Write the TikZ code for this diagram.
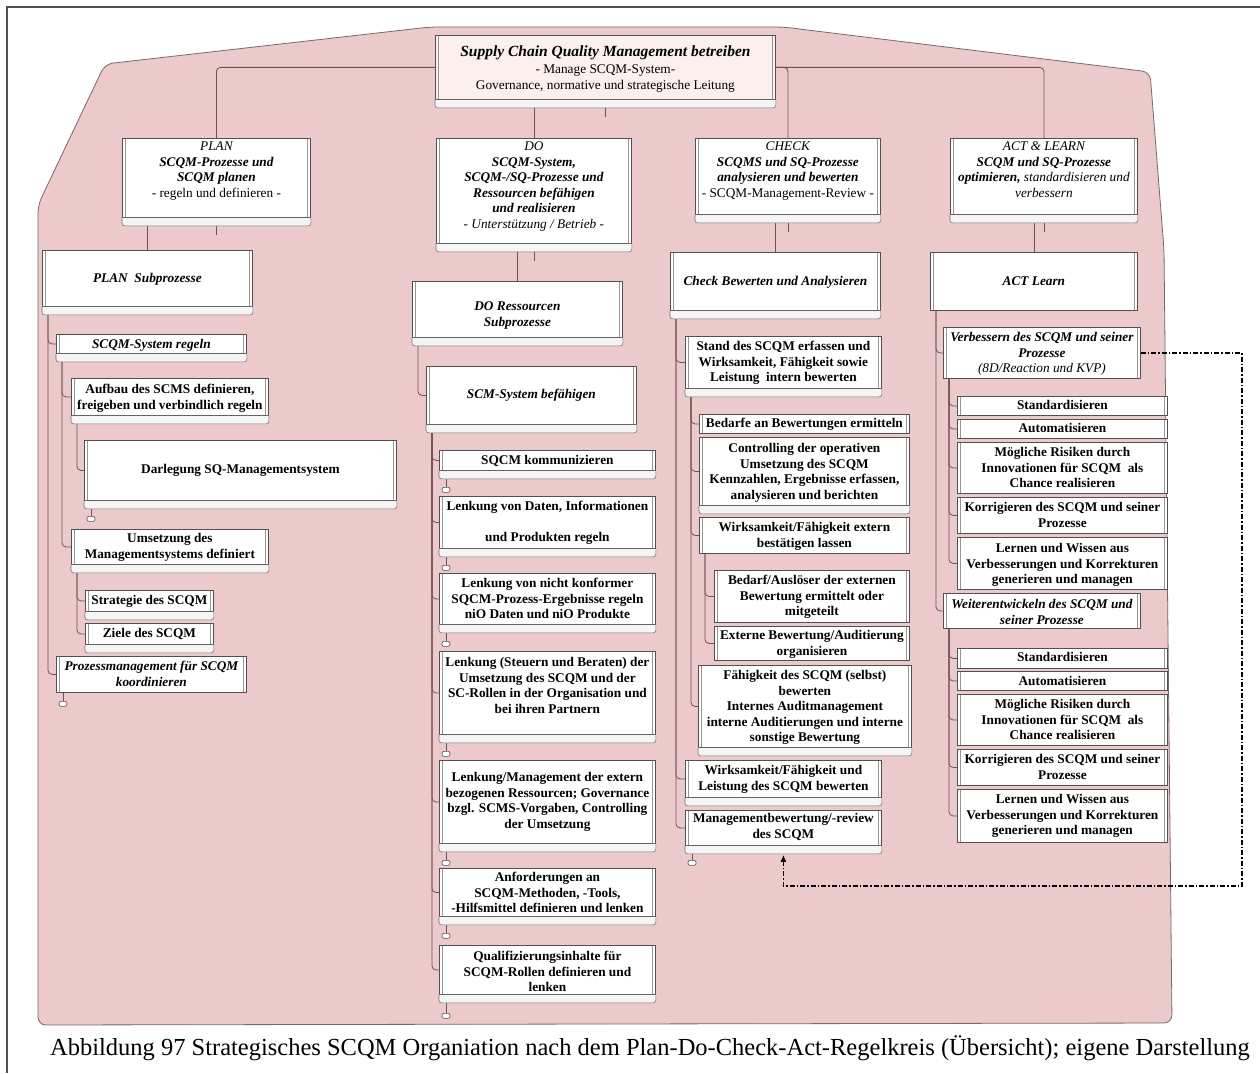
\documentclass[tikz,border=0pt]{standalone}
\usepackage{fontspec}
\setmainfont{Liberation Serif}
\usetikzlibrary{arrows.meta,backgrounds}

\definecolor{rose}{RGB}{236,201,203}
\definecolor{roseline}{RGB}{120,104,104}
\definecolor{linkcol}{RGB}{112,82,82}
\definecolor{boxline}{RGB}{80,80,80}
\definecolor{toppink}{RGB}{252,240,239}

\begin{document}
\begin{tikzpicture}
  [x=1pt,y=-1pt,
   every node/.style={font=\fontsize{13.3}{15.5}\selectfont},
   twin/.style={path picture={
     \draw[boxline!60,line width=0.6pt]
       ([xshift=3pt]path picture bounding box.north west) -- ([xshift=3pt]path picture bounding box.south west)
       ([xshift=-3pt]path picture bounding box.north east) -- ([xshift=-3pt]path picture bounding box.south east);}},
   cardbox/.style n args={3}{draw=boxline,fill=white,line width=0.8pt,anchor=north west,
     align=center,inner xsep=3pt,inner ysep=0pt,
     minimum width=#1,text height=#2,text depth=#3,twin},
   strong/.style={font=\fontsize{13.3}{15.5}\selectfont\bfseries},
   heading/.style={font=\fontsize{13.3}{15.5}\selectfont\bfseries\itshape},
   stripe/.style={draw=boxline!80,fill=black!4,line width=0.6pt,rounded corners=2.5pt},
   link/.style={draw=linkcol,line width=0.8pt,rounded corners=4pt},
   endmark/.style={draw=boxline,fill=white,line width=0.6pt,rounded corners=2pt,
     minimum width=8pt,minimum height=5pt,inner sep=0pt},
   loopback/.style={draw=black,line width=1.3pt,dash pattern=on 5pt off 2pt on 1.5pt off 2pt,
     -{Latex[length=7pt,width=6pt]}},
   captiontext/.style={font=\fontsize{24.5}{27}\selectfont}]

  \useasboundingbox (0,0) rectangle (1260,1073);
  \draw[boxline,line width=1.2pt] (7,1073) -- (7,7) -- (1260,7);

  \begin{pgfonlayer}{background}
    \filldraw[fill=rose,draw=roseline,line width=0.8pt,rounded corners=8pt]
      (38,1025) -- (38,205) -- (105,64) -- (430,27) -- (783,27) -- (1150,72)
      -- (1164,250) -- (1172,1023) -- cycle;
  \end{pgfonlayer}

  % top level
  \node[cardbox={340}{54}{10},fill=toppink] (scqm) at (435,35)
    {{\fontsize{15.5}{17}\selectfont\bfseries\itshape Supply Chain Quality Management betreiben}\\[1.5pt]
     - Manage SCQM-System-\\ Governance, normative und strategische Leitung};
  \node[cardbox={188}{59}{20},heading] (plan) at (122,138)
    {{\mdseries PLAN}\\ SCQM-Prozesse und\\ SCQM planen\\ {\mdseries\upshape - regeln und definieren -}};
  \node[cardbox={195}{90}{15},heading] (dobox) at (436,138)
    {{\mdseries DO}\\ SCQM-System,\\ SCQM-/SQ-Prozesse und\\ Ressourcen befähigen\\ und realisieren\\
     {\mdseries - Unterstützung / Betrieb -}};
  \node[cardbox={185}{59}{17},heading] (check) at (695,138)
    {{\mdseries CHECK}\\ SCQMS und SQ-Prozesse\\ analysieren und bewerten\\
     {\mdseries\upshape - SCQM-Management-Review -}};
  \node[cardbox={187}{59}{17},heading] (act) at (950,138)
    {{\mdseries ACT \& LEARN}\\ SCQM und SQ-Prozesse\\ optimieren, {\mdseries standardisieren und}\\
     {\mdseries verbessern}};

  % PLAN
  \node[cardbox={210}{32.5}{23.5},heading] (plansub) at (42,250) {PLAN\ \ Subprozesse};
  \node[cardbox={190}{14.5}{4.5},heading] (sysreg) at (56,334) {SCQM-System regeln};
  \node[cardbox={197}{31}{6},strong] (aufbau) at (71,378)
    {Aufbau des SCMS definieren,\\ freigeben und verbindlich regeln};
  \node[cardbox={312}{33.5}{26.5},strong] (darleg) at (84,440) {Darlegung SQ-Managementsystem};
  \node[cardbox={197}{29}{6},strong] (umsetz) at (71,529)
    {Umsetzung des\\ Managementsystems definiert};
  \node[cardbox={128}{14.5}{6.5},strong] (strat) at (85,590) {Strategie des SCQM};
  \node[cardbox={128}{14.5}{6.5},strong] (ziele) at (85,623) {Ziele des SCQM};
  \node[cardbox={190}{30}{6},heading] (prozmgmt) at (56,656)
    {Prozessmanagement für SCQM\\ koordinieren};

  % DO
  \node[cardbox={210}{45}{11},heading] (dores) at (412,281) {DO Ressourcen\\ Subprozesse};
  \node[cardbox={210}{32.5}{25.5},heading] (scmsys) at (426,366) {SCM-System befähigen};
  \node[cardbox={216}{14.5}{5.5},strong] (komm) at (439,450) {SQCM kommunizieren};
  \node[cardbox={216}{45.5}{6.5},strong] (daten) at (439,496)
    {Lenkung von Daten, Informationen\\[15.5pt] und Produkten regeln};
  \node[cardbox={216}{45.5}{5.5},strong] (nio) at (439,573)
    {Lenkung von nicht konformer\\ SQCM-Prozess-Ergebnisse regeln\\ niO Daten und niO Produkte};
  \node[cardbox={216}{62}{21},strong] (steuern) at (439,651)
    {Lenkung (Steuern und Beraten) der\\ Umsetzung des SCQM und der\\
     SC-Rollen in der Organisation und\\ bei ihren Partnern};
  \node[cardbox={216}{68}{15},strong] (extres) at (439,760)
    {Lenkung/Management der extern\\ bezogenen Ressourcen; Governance\\
     bzgl. SCMS-Vorgaben, Controlling\\ der Umsetzung};
  \node[cardbox={216}{44.5}{3.5},strong] (anford) at (439,868)
    {Anforderungen an\\ SCQM-Methoden, -Tools,\\ -Hilfsmittel definieren und lenken};
  \node[cardbox={216}{46.5}{2.5},strong] (qualif) at (439,945)
    {Qualifizierungsinhalte für\\ SCQM-Rollen definieren und\\ lenken};

  % CHECK
  \node[cardbox={210}{33.5}{24.5},heading] (chkbew) at (670,252) {Check Bewerten und Analysieren};
  \node[cardbox={196}{45.5}{6.5},strong] (stand) at (685,336)
    {Stand des SCQM erfassen und\\ Wirksamkeit, Fähigkeit sowie\\ Leistung\ \ intern bewerten};
  \node[cardbox={210}{13.5}{5.5},strong] (bedarfe) at (699,414) {Bedarfe an Bewertungen ermitteln};
  \node[cardbox={210}{62}{6},strong] (controll) at (699,437)
    {Controlling der operativen\\ Umsetzung des SCQM\\ Kennzahlen, Ergebnisse erfassen,\\
     analysieren und berichten};
  \node[cardbox={210}{30}{6},strong] (extbest) at (699,517)
    {Wirksamkeit/Fähigkeit extern\\ bestätigen lassen};
  \node[cardbox={195}{45.5}{6.5},strong] (ausloes) at (714,570)
    {Bedarf/Auslöser der externen\\ Bewertung ermittelt oder\\ mitgeteilt};
  \node[cardbox={195}{29}{5},strong] (extaudit) at (714,626)
    {Externe Bewertung/Auditierung\\ organisieren};
  \node[cardbox={213}{76.5}{5.5},strong] (selbst) at (698,665)
    {Fähigkeit des SCQM (selbst)\\ bewerten\\ Internes Auditmanagement\\
     interne Auditierungen und interne\\ sonstige Bewertung};
  \node[cardbox={196}{30}{7},strong] (leistung) at (685,760)
    {Wirksamkeit/Fähigkeit und\\ Leistung des SCQM bewerten};
  \node[cardbox={196}{28}{7},strong] (review) at (685,810)
    {Managementbewertung/-review\\ des SCQM};

  % ACT
  \node[cardbox={207}{33.5}{24.5},heading] (actlearn) at (930,252) {ACT Learn};
  \node[cardbox={197}{45.5}{5.5},heading] (verbess) at (943,327)
    {Verbessern des SCQM und seiner\\ Prozesse\\ {\mdseries (8D/Reaction und KVP)}};
  \node[cardbox={210}{13.5}{5.5},strong] (std1) at (957,396) {Standardisieren};
  \node[cardbox={210}{13.5}{5.5},strong] (auto1) at (957,419) {Automatisieren};
  \node[cardbox={210}{45.5}{5.5},strong] (risk1) at (957,442)
    {Mögliche Risiken durch\\ Innovationen für SCQM\ \ als\\ Chance realisieren};
  \node[cardbox={210}{30}{6},strong] (korr1) at (957,497)
    {Korrigieren des SCQM und seiner\\ Prozesse};
  \node[cardbox={210}{46.5}{5.5},strong] (lern1) at (957,537)
    {Lernen und Wissen aus\\ Verbesserungen und Korrekturen\\ generieren und managen};
  \node[cardbox={197}{31}{4},heading] (weiter) at (943,593)
    {Weiterentwickeln des SCQM und\\ seiner Prozesse};
  \node[cardbox={210}{13.5}{6.5},strong] (std2) at (957,648) {Standardisieren};
  \node[cardbox={210}{14.5}{4.5},strong] (auto2) at (957,671) {Automatisieren};
  \node[cardbox={210}{45.5}{5.5},strong] (risk2) at (957,694)
    {Mögliche Risiken durch\\ Innovationen für SCQM\ \ als\\ Chance realisieren};
  \node[cardbox={210}{30}{6},strong] (korr2) at (957,749)
    {Korrigieren des SCQM und seiner\\ Prozesse};
  \node[cardbox={210}{45.5}{7.5},strong] (lern2) at (957,789)
    {Lernen und Wissen aus\\ Verbesserungen und Korrekturen\\ generieren und managen};

  % strips under the boxes
  \foreach \n in {scqm, plan, dobox, check, act, plansub, sysreg, aufbau, darleg, umsetz, strat, ziele,
      dores, scmsys, komm, daten, nio, steuern, extres, anford, qualif,
      chkbew, stand, controll, selbst, leistung, review}
    \draw[stripe] (\n.south west) -- ([yshift=-8pt]\n.south west)
      -- ([yshift=-8pt]\n.south east) -- (\n.south east);

  % end markers
  \foreach \n/\d in {darleg/18, prozmgmt/11, komm/19, daten/19, nio/19, steuern/19,
      extres/19, anford/19, qualif/21, review/17}
  {
    \node[endmark] (\n-e) at ([xshift=7pt,yshift=-\d]\n.south west) {};
    \begin{pgfonlayer}{background}
      \draw[link] (\n-e.north) -- (\n-e.north |- \n.south);
    \end{pgfonlayer}
  }

  \begin{pgfonlayer}{background}
    \draw[link] (scqm.west) -| (plan.north);
    \draw[link] (scqm.east) -| (act.north);
    \draw[link] (scqm.east) -| (check.north);
    \draw[link] (scqm.south -| dobox.north) -- (dobox.north);
    \foreach \n in {scqm, plan, dobox, check, act}
      \draw[link] (\n.south) -- ++(0,17);
    \foreach \from/\to in {plan/plansub, dobox/dores, check/chkbew, act/actlearn}
      \draw[link] (\from.south -| \to.north) -- (\to.north);
    \foreach \from/\to in {plansub/sysreg, plansub/prozmgmt, sysreg/aufbau, sysreg/umsetz,
        aufbau/darleg, umsetz/strat, umsetz/ziele,
        dores/scmsys, scmsys/komm, scmsys/daten, scmsys/nio, scmsys/steuern,
        scmsys/extres, scmsys/anford, scmsys/qualif,
        chkbew/stand, chkbew/leistung, chkbew/review, stand/bedarfe, stand/controll,
        stand/extbest, stand/selbst, extbest/ausloes, extbest/extaudit,
        actlearn/verbess, actlearn/weiter, verbess/std1, verbess/auto1, verbess/risk1,
        verbess/korr1, verbess/lern1, weiter/std2, weiter/auto2, weiter/risk2,
        weiter/korr2, weiter/lern2}
      \draw[link] ([xshift=6pt]\from.south west) |- (\to.west);
  \end{pgfonlayer}

  % feedback loop
  \coordinate (turn) at (1242,886);
  \draw[loopback] (verbess.east) -| (turn) -| ([yshift=-9pt]review.south);

  \node[captiontext] (cap) at (650,1048)
    {Abbildung 97 Strategisches SCQM Organiation nach dem Plan-Do-Check-Act-Regelkreis (Übersicht); eigene Darstellung};
\end{tikzpicture}
\end{document}
